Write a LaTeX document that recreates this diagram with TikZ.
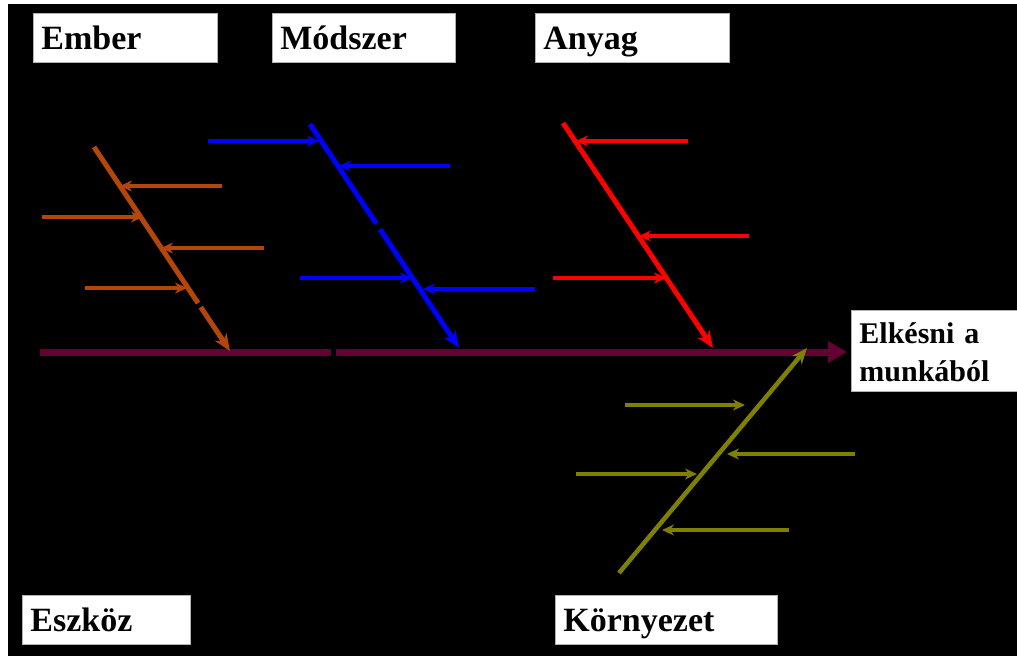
\documentclass[tikz,border=0pt]{standalone}
\usepackage{fontspec}
\setmainfont{Liberation Serif}
\usetikzlibrary{arrows.meta,calc}
\definecolor{spinec}{RGB}{102,0,51}
\definecolor{brownc}{RGB}{180,70,10}
\definecolor{bluec}{RGB}{0,0,255}
\definecolor{redc}{RGB}{255,0,0}
\definecolor{olivec}{RGB}{128,128,0}
\begin{document}
\begin{tikzpicture}[x=1pt,y=-1pt,
  lbl/.style={draw=gray!60, line width=0.8pt, fill=white, anchor=north west,
    inner xsep=8pt, inner ysep=0pt, align=left,
    text height=27pt, text depth=3pt,
    font=\bfseries\fontsize{34}{36}\selectfont},
  bone/.style={line width=5pt, -{Stealth[length=17pt,width=14pt]}},
  rib/.style={line width=3.6pt, -{Stealth[length=12pt,width=11pt]}},
  spineline/.style={line width=7pt, spinec},
]
\fill[white] (0,0) rectangle (1017,656);
\useasboundingbox (0,0) rectangle (1017,656);
\fill[black] (8,4) rectangle (1017,656);

% main spine
\coordinate (s0) at (40,352);
\coordinate (s1) at (331,352);
\coordinate (s2) at (336,352);
\coordinate (s3) at (847,352);
\draw[spineline] (s0) -- (s1);
\draw[spineline, -{Triangle[length=19pt,width=21pt]}] (s2) -- (s3);

% Ember (brown)
\coordinate (b0) at (94,147);
\coordinate (b1) at (230,351);
\draw[brownc, line width=5pt] (b0) -- ($(b0)!0.765!(b1)$);
\draw[brownc, bone] ($(b0)!0.785!(b1)$) -- (b1);
\coordinate (b1s) at (222,186); \coordinate (b1e) at (120,186);
\coordinate (b2s) at (42,217);  \coordinate (b2e) at (143,217);
\coordinate (b3s) at (264,248); \coordinate (b3e) at (161,248);
\coordinate (b4s) at (85,288);  \coordinate (b4e) at (187,288);
\draw[brownc, rib] (b1s) -- (b1e);
\draw[brownc, rib] (b2s) -- (b2e);
\draw[brownc, rib] (b3s) -- (b3e);
\draw[brownc, rib] (b4s) -- (b4e);

% Modszer (blue)
\coordinate (m0) at (310,124);
\coordinate (m1) at (459,348);
\draw[bluec, line width=5pt] (m0) -- ($(m0)!0.445!(m1)$);
\draw[bluec, bone] ($(m0)!0.47!(m1)$) -- (m1);
\coordinate (m1s) at (208,141); \coordinate (m1e) at (319,141);
\coordinate (m2s) at (450,166); \coordinate (m2e) at (339,166);
\coordinate (m3s) at (300,278); \coordinate (m3e) at (412,278);
\coordinate (m4s) at (535,289); \coordinate (m4e) at (423,289);
\draw[bluec, rib] (m1s) -- (m1e);
\draw[bluec, rib] (m2s) -- (m2e);
\draw[bluec, rib] (m3s) -- (m3e);
\draw[bluec, rib] (m4s) -- (m4e);

% Anyag (red)
\coordinate (a0) at (563,123);
\coordinate (a1) at (713,348);
\draw[redc, bone] (a0) -- (a1);
\coordinate (a1s) at (688,141); \coordinate (a1e) at (576,141);
\coordinate (a2s) at (749,236); \coordinate (a2e) at (639,236);
\coordinate (a3s) at (553,278); \coordinate (a3e) at (666,278);
\draw[redc, rib] (a1s) -- (a1e);
\draw[redc, rib] (a2s) -- (a2e);
\draw[redc, rib] (a3s) -- (a3e);

% Kornyezet (olive)
\coordinate (k0) at (619,573);
\coordinate (k1) at (807,348);
\draw[olivec, line width=4.5pt, -{Stealth[length=16pt,width=13pt]}] (k0) -- (k1);
\coordinate (k1s) at (625,405); \coordinate (k1e) at (745,405);
\coordinate (k2s) at (855,454); \coordinate (k2e) at (727,454);
\coordinate (k3s) at (576,474); \coordinate (k3e) at (697,474);
\coordinate (k4s) at (789,530); \coordinate (k4e) at (662,530);
\draw[olivec, rib] (k1s) -- (k1e);
\draw[olivec, rib] (k2s) -- (k2e);
\draw[olivec, rib] (k3s) -- (k3e);
\draw[olivec, rib] (k4s) -- (k4e);

% labels
\node[lbl, text width=168pt, minimum height=49pt] (ember) at (33,13) {Ember};
\node[lbl, text width=167pt, minimum height=49pt] (modszer) at (272,13) {Módszer};
\node[lbl, text width=178pt, minimum height=49pt] (anyag) at (535,13) {Anyag};
\node[lbl, text width=152pt, minimum height=49pt] (eszkoz) at (22,595) {Eszköz};
\node[lbl, text width=206pt, minimum height=49pt] (kornyezet) at (555,595) {Környezet};
\node[lbl, text width=150pt, minimum height=81pt, text height=21pt, text depth=36pt,
  font=\bfseries\fontsize{30}{38}\selectfont] (effect) at (851,310) {Elkésni a\\munkából};
\end{tikzpicture}
\end{document}
